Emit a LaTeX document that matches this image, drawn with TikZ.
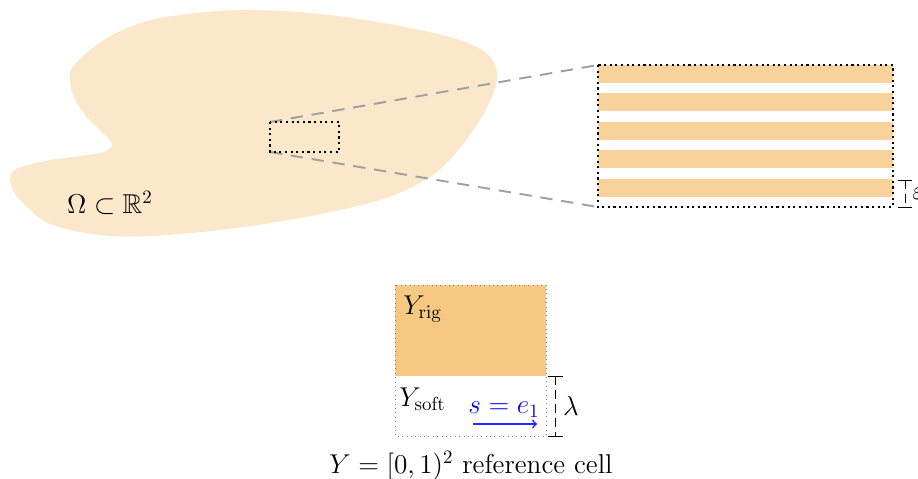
\documentclass[tikz,border=0pt]{standalone}
\usepackage{amssymb}
\definecolor{blobc}{HTML}{FBE8CB}
\definecolor{stripec}{HTML}{F8D29A}
\definecolor{rigc}{HTML}{F7C881}
\definecolor{dashg}{HTML}{A0A0A0}
\tikzset{
  lbl/.style={font=\Large, scale=1.076, inner sep=1pt},
  zoomline/.style={dashg, line width=1.1pt, dash pattern=on 7pt off 5pt},
  bigdot/.style={black, line width=1.2pt, dotted},
  bracket/.style={black, line width=0.5pt},
  brdash/.style={black, line width=0.5pt, dash pattern=on 5pt off 3pt},
}
\begin{document}
\begin{tikzpicture}[x=0.02cm, y=-0.02cm]
\useasboundingbox (0,0) rectangle (918,479);
% domain
\fill[blobc] plot[smooth cycle, tension=0.55] coordinates {
 (72,68) (70,82) (74,97) (86,116) (101,131) (112,144) (104,152) (80,156) (45,161) (16,169) (10,181)
 (20,200) (50,224) (100,235) (150,236) (220,230) (300,218) (380,200) (430,177) (460,148)
 (484,113) (497,80) (491,58) (468,43) (420,30) (330,15) (240,10) (160,18) (118,32) (90,50)};
\node[lbl] (omega) at (110,203) {$\Omega\subset\mathbb{R}^2$};
% small window
\coordinate (s1) at (270,122); \coordinate (s2) at (339,152);
\coordinate (s3) at (270,152);
% big window
\coordinate (b1) at (598,65); \coordinate (b2) at (893,207); \coordinate (b3) at (598,207);
\draw[zoomline] (s1) -- (b1);
\draw[zoomline] (s3) -- (b3);
\foreach \y in {0,1,2,3,4}{
  \fill[stripec] (598,65+28.4*\y) rectangle (893,83+28.4*\y);
}
\draw[bigdot] (s1) rectangle (s2);
\draw[bigdot] (b1) rectangle (b2);
% epsilon bracket
\coordinate (et) at (905,180); \coordinate (eb) at (905,207);
\draw[bracket] (898,180) -- (912,180);
\draw[bracket] (898,207) -- (912,207);
\draw[brdash] (et) -- (eb);
\node[lbl, anchor=west] (eps) at (910,193.5) {$\varepsilon$};
% reference cell
\fill[rigc] (395,285) rectangle (546,376);
\draw[gray, dotted, line width=0.5pt] (395,285) rectangle (546,436);
\node[lbl, anchor=west] (yrig) at (401,309) {$Y_{\mathrm{rig}}$};
\node[lbl, anchor=west] (ysoft) at (397,399) {$Y_{\mathrm{soft}}$};
\node[lbl, blue] (s) at (504,410) {$s=e_1$};
\coordinate (a1) at (473,424); \coordinate (a2) at (537,424);
\draw[blue!85!white, line width=0.9pt, ->] (a1) -- (a2);
% lambda bracket
\coordinate (lt) at (555,376); \coordinate (lb) at (555,436);
\draw[bracket] (548,376) -- (563,376);
\draw[bracket] (548,436) -- (563,436);
\draw[brdash] (lt) -- (lb);
\node[lbl] (lam) at (571,406) {$\lambda$};
\node[lbl] (cap) at (471,466) {$Y=[0,1)^2$ reference cell};
\end{tikzpicture}
\end{document}
